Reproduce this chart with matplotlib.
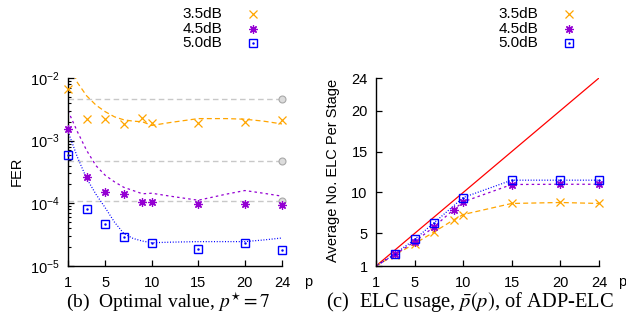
import numpy as np
import matplotlib
matplotlib.use("Agg")
import matplotlib.pyplot as plt
from matplotlib.lines import Line2D
from matplotlib.ticker import FixedLocator, LogLocator, NullFormatter

plt.rcParams["font.family"] = ["Liberation Sans", "DejaVu Sans"]
plt.rcParams["mathtext.fontset"] = "custom"
plt.rcParams["mathtext.rm"] = "Liberation Sans"
plt.rcParams["mathtext.it"] = "Liberation Sans:italic"

# ---------------- data ----------------
snr_labels = ["3.5dB", "4.5dB", "5.0dB"]

# (b) FER vs p : markers
p_35 = [1, 3, 5, 7, 9, 10, 15, 20, 24]
fer_35 = [6.6e-3, 2.22e-3, 2.2e-3, 1.85e-3, 2.28e-3, 1.94e-3, 1.94e-3, 2.0e-3, 2.14e-3]
p_45 = [1, 3, 5, 7, 9, 10, 15, 20, 24]
fer_45 = [1.54e-3, 2.66e-4, 1.53e-4, 1.39e-4, 1.05e-4, 1.05e-4, 9.7e-5, 9.7e-5, 9.5e-5]
p_50 = [1, 3, 5, 7, 10, 15, 20, 24]
fer_50 = [5.9e-4, 8.1e-5, 4.7e-5, 2.9e-5, 2.35e-5, 1.86e-5, 2.35e-5, 1.8e-5]

# (b) smoothed curves
cp_35 = [1, 2, 3, 4, 5, 6, 7, 8, 9, 10, 12, 15, 18, 20, 22, 24]
cv_35 = [2.0e-2, 8.5e-3, 5.2e-3, 3.7e-3, 2.9e-3, 2.4e-3, 2.15e-3, 2.05e-3,
         2.0e-3, 1.75e-3, 1.95e-3, 2.25e-3, 2.25e-3, 2.2e-3, 2.05e-3, 1.85e-3]
cp_45 = [1, 2, 3, 4, 5, 6, 7, 8, 9, 10, 12, 15, 18, 20, 22, 24]
cv_45 = [3.0e-3, 1.4e-3, 7.0e-4, 4.0e-4, 2.8e-4, 2.2e-4, 1.8e-4, 1.6e-4,
         1.42e-4, 1.45e-4, 1.3e-4, 1.12e-4, 1.4e-4, 1.6e-4, 1.45e-4, 1.3e-4]
cp_50 = [1, 2, 3, 4, 5, 6, 7, 8, 9, 10, 12, 15, 20, 22, 24]
cv_50 = [1.4e-3, 5.5e-4, 2.5e-4, 1.4e-4, 8.5e-5, 5.0e-5, 3.3e-5, 2.75e-5,
         2.5e-5, 2.35e-5, 2.4e-5, 2.45e-5, 2.45e-5, 2.6e-5, 2.8e-5]

# grey reference levels
ref_levels = [4.6e-3, 4.8e-4, 1.1e-4]

# (c) ELC usage
u_p_35 = [1, 3, 5, 7, 9, 10, 15, 20, 24]
u_35 = [1, 2.4, 3.74, 5.17, 6.64, 7.3, 8.65, 8.77, 8.65]
u_p_45 = [1, 3, 5, 7, 9, 10, 15, 20, 24]
u_45 = [1, 2.45, 3.99, 5.8, 7.9, 8.85, 10.97, 11.0, 11.0]
u_p_50 = [1, 3, 5, 7, 10, 15, 20, 24]
u_50 = [1, 2.52, 4.27, 6.3, 9.38, 11.5, 11.5, 11.5]
diag = [1, 24]

x_ticks = [1, 5, 10, 15, 20, 24]
u_yticks = [1, 5, 10, 15, 20, 24]

# ---------------- styles ----------------
ORANGE = "#ffa500"
PURPLE = "#9400d3"
BLUE = "#0000ff"
GREY = "#c8c8c8"
FS = 10.5

W, H = 626, 320
fig = plt.figure(figsize=(W / 100, H / 100), dpi=100)


def px(x, y):
    return x / W, 1 - y / H


def style_axes(ax):
    for s in ("top", "right"):
        ax.spines[s].set_visible(False)
    for s in ("left", "bottom"):
        ax.spines[s].set_linewidth(1.0)
    ax.tick_params(which="major", direction="in", length=4, width=0.9,
                   labelsize=FS, top=False, right=False)
    ax.tick_params(which="minor", direction="in", length=2.2, width=0.8,
                   top=False, right=False)
    ax.tick_params(axis="x", pad=7)
    ax.set_xlim(1, 24)
    ax.xaxis.set_major_locator(FixedLocator(x_ticks))
    ax.set_xticklabels([str(t) for t in x_ticks])


def markers(ax, x, y, kind, clip=False):
    if kind == 0:
        ax.plot(x, y, ls="none", marker="x", ms=5.5, mew=0.9, color=ORANGE,
                clip_on=clip, zorder=4)
    elif kind == 1:
        ax.plot(x, y, ls="none", marker=(8, 2, 0), ms=6, mew=0.9, color=PURPLE,
                clip_on=clip, zorder=4)
    else:
        ax.plot(x, y, ls="none", marker="s", ms=6, mew=1.0, mfc="none",
                color=BLUE, clip_on=clip, zorder=4)
        ax.plot(x, y, ls="none", marker=".", ms=1.5, color=BLUE,
                clip_on=clip, zorder=4)


line_kw = [dict(color=ORANGE, lw=0.9, dashes=(4, 2.5)),
           dict(color=PURPLE, lw=0.9, dashes=(2, 2.5)),
           dict(color=BLUE, lw=0.9, dashes=(0.8, 1.4))]

# ---------------- (b) ----------------
ax1 = fig.add_axes([68 / W, 54 / H, 214 / W, 188 / H])
style_axes(ax1)
ax1.set_yscale("log")
ax1.set_ylim(1e-5, 1e-2)
ax1.yaxis.set_major_locator(LogLocator(base=10, numticks=10))
ax1.yaxis.set_minor_locator(LogLocator(base=10, subs=np.arange(2, 10), numticks=10))
ax1.yaxis.set_minor_formatter(NullFormatter())
ax1.tick_params(axis="y", pad=6)

for lvl in ref_levels:
    ax1.plot([1, 24], [lvl, lvl], color=GREY, lw=1.0, dashes=(4, 2.5), zorder=1)
    ax1.plot([24], [lvl], ls="none", marker="o", ms=5, mfc="#dcdcdc",
             mec="#a8a8a8", mew=0.8, clip_on=False, zorder=3)

ax1.plot(cp_35, cv_35, **line_kw[0])
ax1.plot(cp_45, cv_45, **line_kw[1])
ax1.plot(cp_50, cv_50, **line_kw[2])
markers(ax1, p_35, fer_35, 0)
markers(ax1, p_45, fer_45, 1)
markers(ax1, p_50, fer_50, 2)

# ---------------- (c) ----------------
ax2 = fig.add_axes([376 / W, 54 / H, 223 / W, 188 / H])
style_axes(ax2)
ax2.set_ylim(1, 24)
ax2.yaxis.set_major_locator(FixedLocator(u_yticks))
ax2.set_yticklabels([str(t) for t in u_yticks])
ax2.tick_params(axis="y", pad=6)

ax2.plot(diag, diag, color="#ff0000", lw=0.9, zorder=2)
ax2.plot(u_p_35, u_35, **line_kw[0])
ax2.plot(u_p_45, u_45, **line_kw[1])
ax2.plot(u_p_50, u_50, **line_kw[2])
markers(ax2, u_p_35[1:], u_35[1:], 0)
markers(ax2, u_p_45[1:], u_45[1:], 1)
markers(ax2, u_p_50[1:], u_50[1:], 2)

# ---------------- labels ----------------
fig.text(*px(17, 171), "FER", rotation=90, ha="center", va="center", fontsize=FS)
fig.text(*px(333, 170), "Average No. ELC Per Stage", rotation=90,
         ha="center", va="center", fontsize=FS)
fig.text(*px(308, 282), "p", ha="center", va="center", fontsize=FS)
fig.text(*px(622, 282), "p", ha="center", va="center", fontsize=FS)

cap_kw = dict(ha="center", va="center",
              family=["Liberation Serif", "DejaVu Serif"], math_fontfamily="stix")
fig.text(*px(168, 302), r"(b)  Optimal value, $p^{\star} = 7$", fontsize=14, **cap_kw)
fig.text(*px(470, 302), r"(c)  ELC usage, $\bar{p}(p)$, of ADP-ELC", fontsize=14.8, **cap_kw)

# ---------------- legends ----------------
rows = [14, 29, 43]
for text_x, mark_x in [(222, 253), (538, 569)]:
    for k, (lab, ry) in enumerate(zip(snr_labels, rows)):
        fig.text(*px(text_x, ry), lab, ha="right", va="center", fontsize=11)
        mx, my = px(mark_x, ry)
        if k == 0:
            fig.add_artist(Line2D([mx], [my], transform=fig.transFigure, ls="none",
                                  marker="x", ms=5.5, mew=0.9, color=ORANGE))
        elif k == 1:
            fig.add_artist(Line2D([mx], [my], transform=fig.transFigure, ls="none",
                                  marker=(8, 2, 0), ms=6, mew=0.9, color=PURPLE))
        else:
            fig.add_artist(Line2D([mx], [my], transform=fig.transFigure, ls="none",
                                  marker="s", ms=6, mew=1.0, mfc="none", color=BLUE))
            fig.add_artist(Line2D([mx], [my], transform=fig.transFigure, ls="none",
                                  marker=".", ms=1.5, color=BLUE))

fig.savefig("out.png", dpi=100)
